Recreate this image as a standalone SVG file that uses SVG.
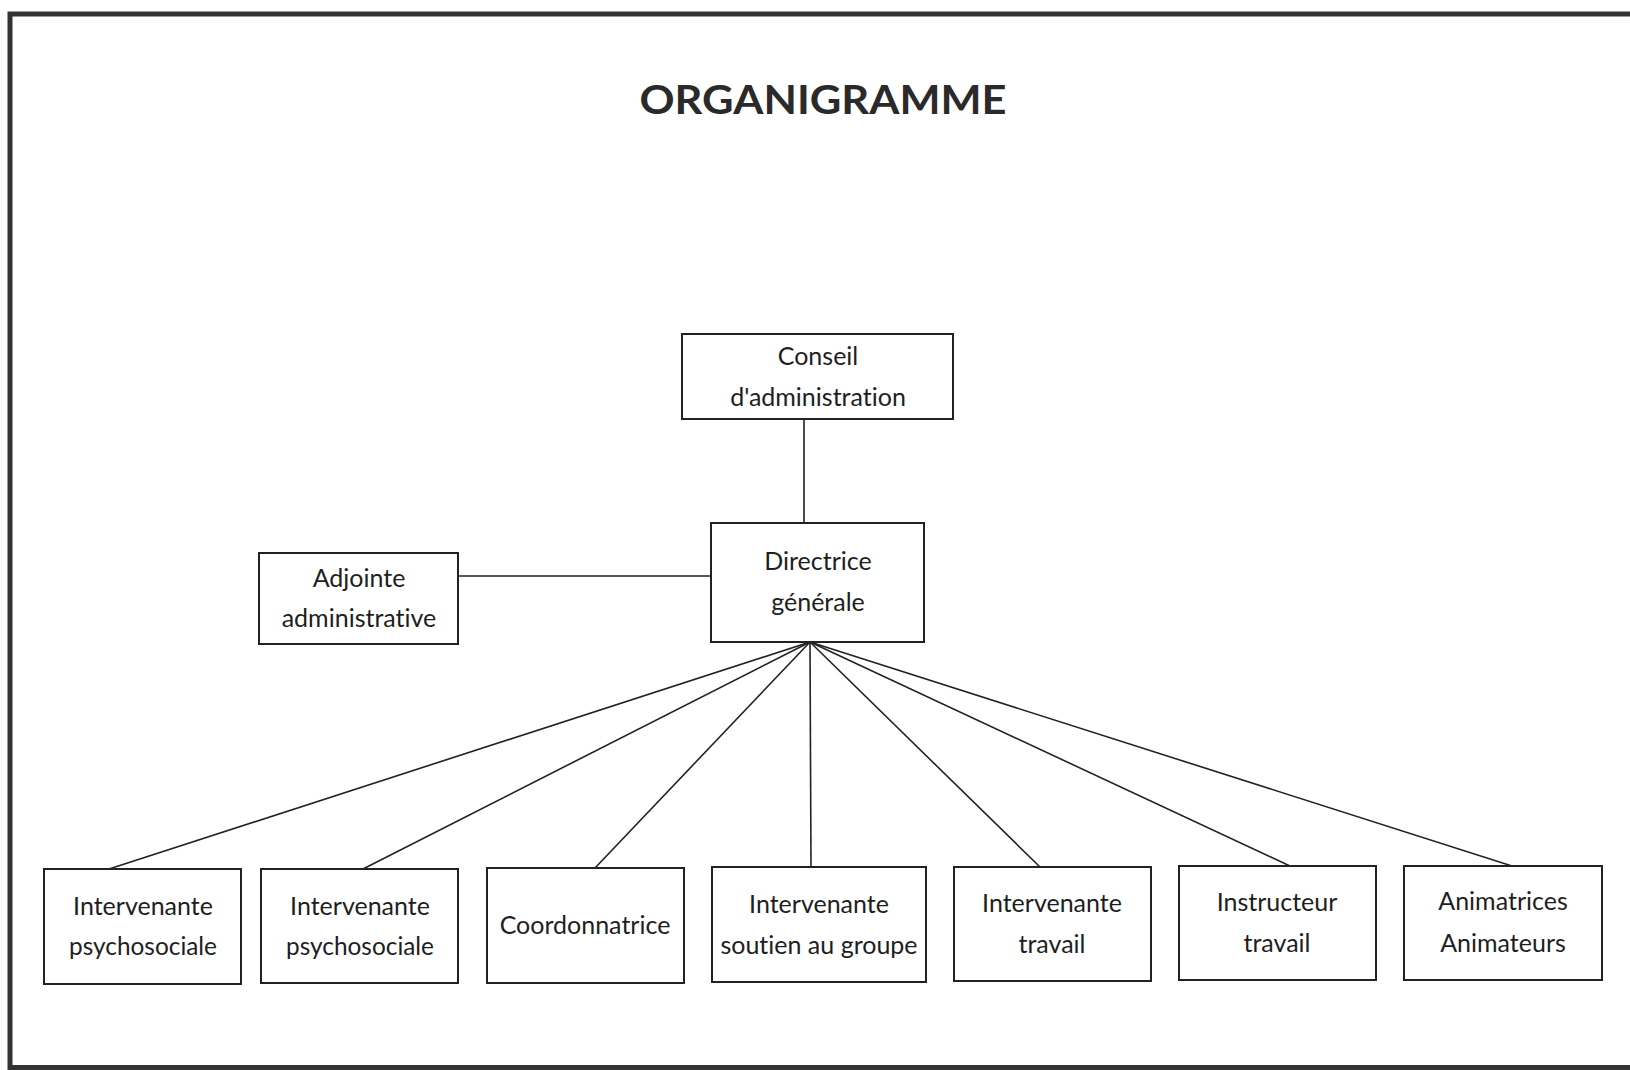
<svg xmlns="http://www.w3.org/2000/svg" width="1630" height="1070" viewBox="0 0 1630 1070">
<style>
.box{fill:#fff;stroke:#222;stroke-width:2}
.lbl{font-family:Lato,"Liberation Sans",sans-serif;font-size:25px;fill:#1e1e1e;text-anchor:middle;font-variant-ligatures:none}
.ttl{font-family:Lato,"Liberation Sans",sans-serif;font-size:40px;font-weight:bold;fill:#2a2a2a;text-anchor:middle}
.conn{stroke:#222;stroke-width:1.6;fill:none}
.frame{stroke:#333;stroke-width:5;fill:none}
</style>
<rect width="1630" height="1070" fill="#fff"/>
<g id="frame">
<path class="frame" d="M1630,14 H10 V1067.5 H1630"/>
</g>
<text class="ttl" x="823" y="114" textLength="367" lengthAdjust="spacingAndGlyphs">ORGANIGRAMME</text>
<g id="connectors">
<line class="conn" x1="804" y1="419" x2="804" y2="523"/>
<line class="conn" x1="458" y1="576" x2="711" y2="576"/>
<line class="conn" x1="810" y1="642" x2="109" y2="869"/>
<line class="conn" x1="810" y1="642" x2="363" y2="869"/>
<line class="conn" x1="810" y1="642" x2="595" y2="868"/>
<line class="conn" x1="810" y1="642" x2="811" y2="867"/>
<line class="conn" x1="810" y1="642" x2="1040" y2="867"/>
<line class="conn" x1="810" y1="642" x2="1290" y2="866"/>
<line class="conn" x1="810" y1="642" x2="1512" y2="866"/>
</g>
<g id="conseil">
<rect class="box" x="682" y="334" width="271" height="85"/>
<text class="lbl" x="818" y="365">Conseil</text>
<text class="lbl" x="818" y="406">d'administration</text>
</g>
<g id="directrice">
<rect class="box" x="711" y="523" width="213" height="119"/>
<text class="lbl" x="818" y="570">Directrice</text>
<text class="lbl" x="818" y="611">générale</text>
</g>
<g id="adjointe">
<rect class="box" x="259" y="553" width="199" height="91"/>
<text class="lbl" x="359" y="587">Adjointe</text>
<text class="lbl" x="359" y="627">administrative</text>
</g>
<g id="psy1">
<rect class="box" x="44" y="869" width="197" height="115"/>
<text class="lbl" x="143" y="915">Intervenante</text>
<text class="lbl" x="143" y="955" textLength="148" lengthAdjust="spacingAndGlyphs">psychosociale</text>
</g>
<g id="psy2">
<rect class="box" x="261" y="869" width="197" height="114"/>
<text class="lbl" x="360" y="915">Intervenante</text>
<text class="lbl" x="360" y="955" textLength="148" lengthAdjust="spacingAndGlyphs">psychosociale</text>
</g>
<g id="coord">
<rect class="box" x="487" y="868" width="197" height="115"/>
<text class="lbl" x="585" y="934">Coordonnatrice</text>
</g>
<g id="soutien">
<rect class="box" x="712" y="867" width="214" height="115"/>
<text class="lbl" x="819" y="913">Intervenante</text>
<text class="lbl" x="819" y="954">soutien au groupe</text>
</g>
<g id="travail">
<rect class="box" x="954" y="867" width="197" height="114"/>
<text class="lbl" x="1052" y="912">Intervenante</text>
<text class="lbl" x="1052" y="953">travail</text>
</g>
<g id="instructeur">
<rect class="box" x="1179" y="866" width="197" height="114"/>
<text class="lbl" x="1277" y="911">Instructeur</text>
<text class="lbl" x="1277" y="952">travail</text>
</g>
<g id="animateurs">
<rect class="box" x="1404" y="866" width="198" height="114"/>
<text class="lbl" x="1503" y="910">Animatrices</text>
<text class="lbl" x="1503" y="952">Animateurs</text>
</g>
</svg>
